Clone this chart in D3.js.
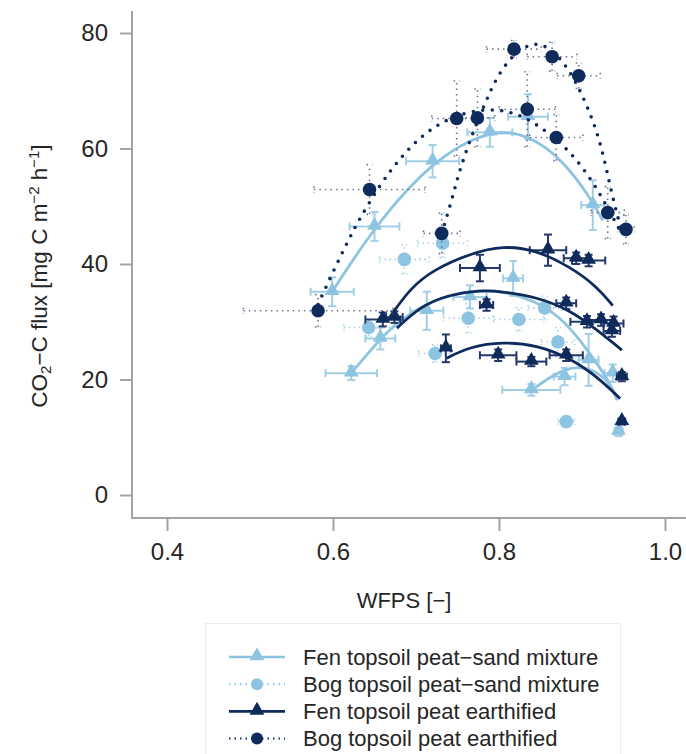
<!DOCTYPE html>
<html>
<head>
<meta charset="utf-8">
<script src="https://cdn.jsdelivr.net/npm/d3@7"></script>
<style>
  html, body { margin: 0; padding: 0; background: #fff; }
  svg { display: block; font-family: "Liberation Sans", Arial, Helvetica, sans-serif; }
</style>
</head>
<body>
<svg id="chart" width="686" height="754"></svg>
<script>
// ---- Data: WFPS (x), CO2-C flux (y), with x / y error half-widths ----
const xTicks = [0.4, 0.6, 0.8, 1.0];
const yTicks = [0, 20, 40, 60, 80];

const seriesNames = [
  "Fen topsoil peat\u2212sand mixture",
  "Bog topsoil peat\u2212sand mixture",
  "Fen topsoil peat earthified",
  "Bog topsoil peat earthified"
];

// Fen topsoil peat-sand mixture (triangles)
const fenMixPoints = [
  { x: 0.599, y: 35.2, ex: 0.026, ey: 2.5 },
  { x: 0.650, y: 46.5, ex: 0.030, ey: 2.5 },
  { x: 0.720, y: 57.8, ex: 0.032, ey: 2.8 },
  { x: 0.789, y: 62.8, ex: 0.027, ey: 2.5 },
  { x: 0.835, y: 65.5, ex: 0.024, ey: 3.9 },
  { x: 0.913, y: 50.2, ex: 0.014, ey: 4.3 },
  { x: 0.622, y: 21.1, ex: 0.031, ey: 1.2 },
  { x: 0.657, y: 27.1, ex: 0.018, ey: 1.9 },
  { x: 0.713, y: 31.9, ex: 0.020, ey: 3.3 },
  { x: 0.765, y: 34.3, ex: 0.020, ey: 2.0 },
  { x: 0.817, y: 37.5, ex: 0.012, ey: 3.0 },
  { x: 0.908, y: 23.4, ex: 0.012, ey: 4.5 },
  { x: 0.839, y: 18.2, ex: 0.035, ey: 1.0 },
  { x: 0.879, y: 20.5, ex: 0.013, ey: 1.5 },
  { x: 0.937, y: 21.1, ex: 0.010, ey: 1.5 },
  { x: 0.944, y: 11.0, ex: 0.005, ey: 0.8 }
];
const fenMixCurves = [
  [[0.599, 35.2], [0.650, 46.5], [0.720, 58.0], [0.789, 63.4], [0.837, 62.4], [0.877, 58.0], [0.912, 51.1], [0.925, 47.5]],
  [[0.622, 21.1], [0.657, 27.1], [0.681, 30.3], [0.720, 33.8], [0.765, 35.4], [0.805, 35.4], [0.845, 33.5], [0.873, 30.9], [0.898, 26.8], [0.918, 22.8], [0.934, 19.3], [0.942, 16.5]],
  [[0.838, 18.0], [0.860, 20.3], [0.880, 21.8], [0.898, 22.3], [0.920, 21.2], [0.935, 19.0], [0.943, 16.4]]
];

// Bog topsoil peat-sand mixture (circles)
const bogMixPoints = [
  { x: 0.643, y: 29.0, ex: 0.030, ey: 1.5 },
  { x: 0.686, y: 40.8, ex: 0.030, ey: 2.5 },
  { x: 0.732, y: 43.6, ex: 0.030, ey: 2.5 },
  { x: 0.723, y: 24.5, ex: 0.020, ey: 1.5 },
  { x: 0.763, y: 30.6, ex: 0.030, ey: 2.5 },
  { x: 0.824, y: 30.4, ex: 0.030, ey: 2.0 },
  { x: 0.855, y: 32.4, ex: 0.020, ey: 2.0 },
  { x: 0.871, y: 26.5, ex: 0.020, ey: 2.5 },
  { x: 0.881, y: 12.7, ex: 0.010, ey: 0.8 }
];

// Fen topsoil peat earthified (triangles)
const fenEarthPoints = [
  { x: 0.660, y: 30.4, ex: 0.021, ey: 1.2 },
  { x: 0.777, y: 39.3, ex: 0.024, ey: 2.3 },
  { x: 0.859, y: 42.4, ex: 0.022, ey: 2.7 },
  { x: 0.893, y: 41.0, ex: 0.015, ey: 1.0 },
  { x: 0.908, y: 40.6, ex: 0.020, ey: 1.0 },
  { x: 0.674, y: 30.8, ex: 0.010, ey: 1.0 },
  { x: 0.785, y: 32.9, ex: 0.008, ey: 1.0 },
  { x: 0.881, y: 33.2, ex: 0.012, ey: 1.0 },
  { x: 0.906, y: 30.0, ex: 0.020, ey: 1.0 },
  { x: 0.923, y: 30.3, ex: 0.015, ey: 1.0 },
  { x: 0.938, y: 29.7, ex: 0.012, ey: 1.2 },
  { x: 0.936, y: 28.4, ex: 0.010, ey: 1.0 },
  { x: 0.736, y: 25.4, ex: 0.006, ey: 2.4 },
  { x: 0.799, y: 24.2, ex: 0.022, ey: 1.0 },
  { x: 0.839, y: 23.1, ex: 0.018, ey: 0.8 },
  { x: 0.881, y: 24.2, ex: 0.020, ey: 1.0 },
  { x: 0.948, y: 20.5, ex: 0.006, ey: 0.8 },
  { x: 0.948, y: 12.7, ex: 0.004, ey: 0.5 }
];
const fenEarthCurves = [
  [[0.669, 30.9], [0.693, 35.8], [0.721, 39.0], [0.765, 41.8], [0.805, 43.2], [0.845, 42.4], [0.886, 39.5], [0.918, 36.1], [0.937, 32.8]],
  [[0.677, 28.9], [0.705, 32.6], [0.737, 34.6], [0.777, 35.5], [0.805, 35.2], [0.845, 34.3], [0.886, 32.0], [0.918, 28.6], [0.948, 25.1]],
  [[0.737, 23.7], [0.765, 25.7], [0.805, 26.5], [0.845, 26.0], [0.886, 23.7], [0.918, 20.5], [0.946, 16.7]]
];

// Bog topsoil peat earthified (circles)
const bogEarthPoints = [
  { x: 0.582, y: 31.9, ex: 0.090, ey: 2.8 },
  { x: 0.644, y: 52.9, ex: 0.067, ey: 4.3 },
  { x: 0.731, y: 45.3, ex: 0.022, ey: 3.5 },
  { x: 0.749, y: 65.2, ex: 0.030, ey: 6.5 },
  { x: 0.774, y: 65.3, ex: 0.021, ey: 5.0 },
  { x: 0.818, y: 77.2, ex: 0.033, ey: 1.5 },
  { x: 0.834, y: 66.8, ex: 0.034, ey: 6.5 },
  { x: 0.864, y: 75.9, ex: 0.030, ey: 2.5 },
  { x: 0.869, y: 61.9, ex: 0.032, ey: 4.0 },
  { x: 0.896, y: 72.6, ex: 0.026, ey: 2.2 },
  { x: 0.931, y: 48.9, ex: 0.020, ey: 4.5 },
  { x: 0.953, y: 46.0, ex: 0.010, ey: 2.5 }
];
const bogEarthCurves = [
  [[0.582, 33.0], [0.593, 36.5], [0.618, 44.0], [0.631, 47.6], [0.657, 53.8], [0.678, 57.8], [0.698, 61.0], [0.719, 63.5], [0.745, 65.6], [0.781, 66.9], [0.813, 66.5], [0.840, 64.8], [0.880, 60.5], [0.910, 55.0], [0.930, 50.0], [0.945, 46.0]],
  [[0.731, 45.3], [0.743, 51.0], [0.751, 55.5], [0.765, 61.5], [0.783, 67.8], [0.796, 72.0], [0.813, 75.6], [0.830, 77.6], [0.846, 78.3], [0.861, 77.4], [0.883, 74.2], [0.903, 68.5], [0.918, 63.0], [0.928, 57.5], [0.936, 52.0], [0.948, 45.5]]
];

// ---- Drawing ----
const lightBlue = "#8dc4e1";
const lightBlueBar = "#a3cfe6";
const navy = "#0e2b5c";
const navyBar = "#23386a";
const navyDotBar = "#6b7592";
const axisGrey = "#a3a3a3";
const textColor = "#262626";

const svg = d3.select("#chart");
const x = d3.scaleLinear().domain([0.4, 1.0]).range([167, 665]);
const y = d3.scaleLinear().domain([0, 80]).range([495, 33]);

// L-shaped frame
svg.append("line").attr("x1", 132).attr("x2", 132).attr("y1", 11).attr("y2", 518)
  .attr("stroke", axisGrey).attr("stroke-width", 2);
svg.append("line").attr("x1", 131).attr("x2", 686).attr("y1", 518).attr("y2", 518)
  .attr("stroke", axisGrey).attr("stroke-width", 2);

// Axes
const yAxis = svg.append("g").attr("transform", "translate(131,0)")
  .call(d3.axisLeft(y).tickValues(yTicks).tickFormat(d3.format("d")).tickSize(11).tickPadding(12));
const xAxis = svg.append("g").attr("transform", "translate(0,519)")
  .call(d3.axisBottom(x).tickValues(xTicks).tickFormat(d3.format(".1f")).tickSize(12).tickPadding(12));
[yAxis, xAxis].forEach(g => {
  g.select(".domain").remove();
  g.selectAll(".tick line").attr("stroke", axisGrey).attr("stroke-width", 2);
  g.selectAll(".tick text").attr("fill", textColor).style("font-size", "24px")
    .style("font-family", "'Liberation Sans', Arial, sans-serif");
});

// Axis titles
svg.append("text").attr("x", 404).attr("y", 608).attr("text-anchor", "middle")
  .attr("fill", textColor).style("font-size", "22px").text("WFPS [\u2212]");

const yLab = svg.append("text").attr("transform", "translate(47,276) rotate(-90)")
  .attr("text-anchor", "middle").attr("fill", textColor).style("font-size", "22.5px");
yLab.append("tspan").text("CO");
yLab.append("tspan").attr("baseline-shift", "-25%").style("font-size", "15px").text("2");
yLab.append("tspan").text("\u2212C flux [mg C m");
yLab.append("tspan").attr("baseline-shift", "super").style("font-size", "15px").text("\u22122");
yLab.append("tspan").text(" h");
yLab.append("tspan").attr("baseline-shift", "super").style("font-size", "15px").text("\u22121");
yLab.append("tspan").text("]");

const plot = svg.append("g");
const line = d3.line().x(d => x(d[0])).y(d => y(d[1])).curve(d3.curveBasis);
const tri = d3.symbol().type(d3.symbolTriangle).size(95);

function errorBars(g, pts, color, width, dash, cap) {
  pts.forEach(p => {
    const cx = x(p.x), cy = y(p.y);
    const x0 = x(p.x - p.ex), x1 = x(p.x + p.ex);
    const y0 = y(p.y - p.ey), y1 = y(p.y + p.ey);
    const segs = [
      [x0, cy, x1, cy], [cx, y0, cx, y1],
      [x0, cy - cap, x0, cy + cap], [x1, cy - cap, x1, cy + cap],
      [cx - cap, y0, cx + cap, y0], [cx - cap, y1, cx + cap, y1]
    ];
    segs.forEach(s => {
      g.append("line").attr("x1", s[0]).attr("y1", s[1]).attr("x2", s[2]).attr("y2", s[3])
        .attr("stroke", color).attr("stroke-width", width)
        .attr("stroke-dasharray", dash || null);
    });
  });
}
function curves(g, list, color, width, dash, cap) {
  list.forEach(c => {
    g.append("path").attr("d", line(c)).attr("fill", "none")
      .attr("stroke", color).attr("stroke-width", width)
      .attr("stroke-dasharray", dash || null).attr("stroke-linecap", cap || "butt");
  });
}
function triangles(g, pts, color) {
  g.selectAll(null).data(pts).join("path")
    .attr("d", tri).attr("transform", d => `translate(${x(d.x)},${y(d.y) - 1})`)
    .attr("fill", color);
}
function circles(g, pts, color) {
  g.selectAll(null).data(pts).join("circle")
    .attr("cx", d => x(d.x)).attr("cy", d => y(d.y)).attr("r", 6.8).attr("fill", color);
}

// Bog peat-sand mixture
const gBogMix = plot.append("g");
errorBars(gBogMix, bogMixPoints, lightBlueBar, 1.6, "1.5 3.5", 3);
circles(gBogMix, bogMixPoints, lightBlue);

// Fen peat-sand mixture
const gFenMix = plot.append("g");
errorBars(gFenMix, fenMixPoints, lightBlueBar, 2, null, 4);
curves(gFenMix, fenMixCurves, lightBlue, 2.8);
triangles(gFenMix, fenMixPoints, lightBlue);

// Fen peat earthified
const gFenEarth = plot.append("g");
errorBars(gFenEarth, fenEarthPoints, navyBar, 2, null, 4);
curves(gFenEarth, fenEarthCurves, navy, 2.8);
triangles(gFenEarth, fenEarthPoints, navy);

// Bog peat earthified
const gBogEarth = plot.append("g");
errorBars(gBogEarth, bogEarthPoints, navyDotBar, 1.6, "1.5 4", 3);
curves(gBogEarth, bogEarthCurves, navy, 3.6, "0 9.5", "round");
circles(gBogEarth, bogEarthPoints, navy);

// Legend
const legend = svg.append("g");
legend.append("rect").attr("x", 205.5).attr("y", 623.5).attr("width", 415).attr("height", 140)
  .attr("fill", "none").attr("stroke", "#ececec").attr("stroke-width", 1);
const legendStyle = [
  { color: lightBlue, dash: null, width: 2.6, shape: "triangle" },
  { color: lightBlue, dash: "1.5 4", width: 2, shape: "circle" },
  { color: navy, dash: null, width: 2.6, shape: "triangle" },
  { color: navy, dash: "1.5 4", width: 2, shape: "circle" }
];
seriesNames.forEach((name, i) => {
  const ly = 657 + i * 27.2;
  const st = legendStyle[i];
  legend.append("line").attr("x1", 229).attr("x2", 285).attr("y1", ly).attr("y2", ly)
    .attr("stroke", st.color).attr("stroke-width", st.width)
    .attr("stroke-dasharray", st.dash);
  if (st.shape === "triangle") {
    legend.append("path").attr("d", tri).attr("transform", `translate(257,${ly - 1})`).attr("fill", st.color);
  } else {
    legend.append("circle").attr("cx", 257).attr("cy", ly).attr("r", 6).attr("fill", st.color);
  }
  legend.append("text").attr("x", 303).attr("y", ly).attr("dy", "0.35em")
    .attr("fill", textColor).style("font-size", "22px").text(name);
});
</script>
</body>
</html>
